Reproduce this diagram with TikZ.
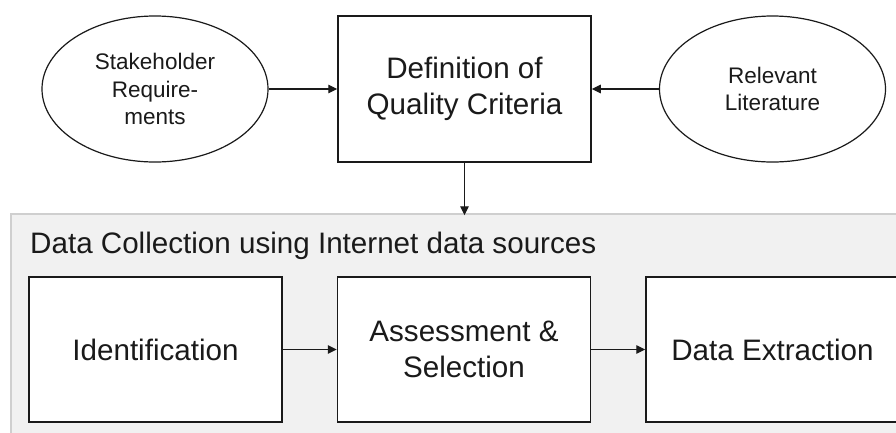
\documentclass[tikz,border=0pt]{standalone}
\usepackage{fontspec}
\setmainfont{Liberation Sans}
\usetikzlibrary{shapes.geometric,arrows.meta}
\definecolor{panelfill}{HTML}{F1F1F1}
\definecolor{panelline}{HTML}{CFCFCF}
\definecolor{ink}{HTML}{1A1A1A}
\begin{document}
\begin{tikzpicture}[x=1pt,y=-1pt,
  bigtext/.style={font=\fontsize{29.6}{36}\selectfont},
  smalltext/.style={font=\fontsize{22.5}{27.5}\selectfont},
  stepbox/.style={draw=ink,line width=1.5pt,fill=white,minimum width=253pt,inner sep=0pt,align=center,bigtext,text=ink},
  source/.style={ellipse,draw=ink,line width=1.2pt,fill=white,minimum width=226pt,minimum height=146pt,inner sep=0pt,align=center,smalltext,text=ink},
  arr/.style={draw=ink,line width=1.1pt,-{Triangle[length=9pt,width=8.5pt]}}]
\clip (0,0) rectangle (896,432);
\fill[white] (0,0) rectangle (896,432);
% panel
\node[draw=panelline,fill=panelfill,line width=1.5pt,minimum width=894pt,minimum height=231pt,inner sep=0pt] (dc) at (458,329.5) {};
\node[bigtext,anchor=base west,inner sep=0pt,text=ink] (title) at (30,253) {Data Collection using Internet data sources};
% top row
\node[source] (sr) at (155,89) {Stakeholder\\Require-\\ments};
\node[stepbox,minimum height=146pt] (def) at (464.5,89) {Definition of\\Quality Criteria};
\node[source] (lit) at (772.5,89) {Relevant\\Literature};
% bottom row
\node[stepbox,minimum height=145pt] (idf) at (155.5,349.5) {Identification};
\node[stepbox,minimum height=145pt] (ass) at (464,349.5) {Assessment \&\\Selection};
\node[stepbox,minimum height=145pt] (ext) at (772.5,349.5) {Data Extraction};
% connectors
\draw[arr] (sr.east) -- (def.west);
\draw[arr] (lit.west) -- (def.east);
\draw[arr] (def.south) -- ([yshift=-2pt]def.south |- dc.north);
\draw[arr] (idf.east) -- (ass.west);
\draw[arr] (ass.east) -- (ext.west);
\end{tikzpicture}
\end{document}
